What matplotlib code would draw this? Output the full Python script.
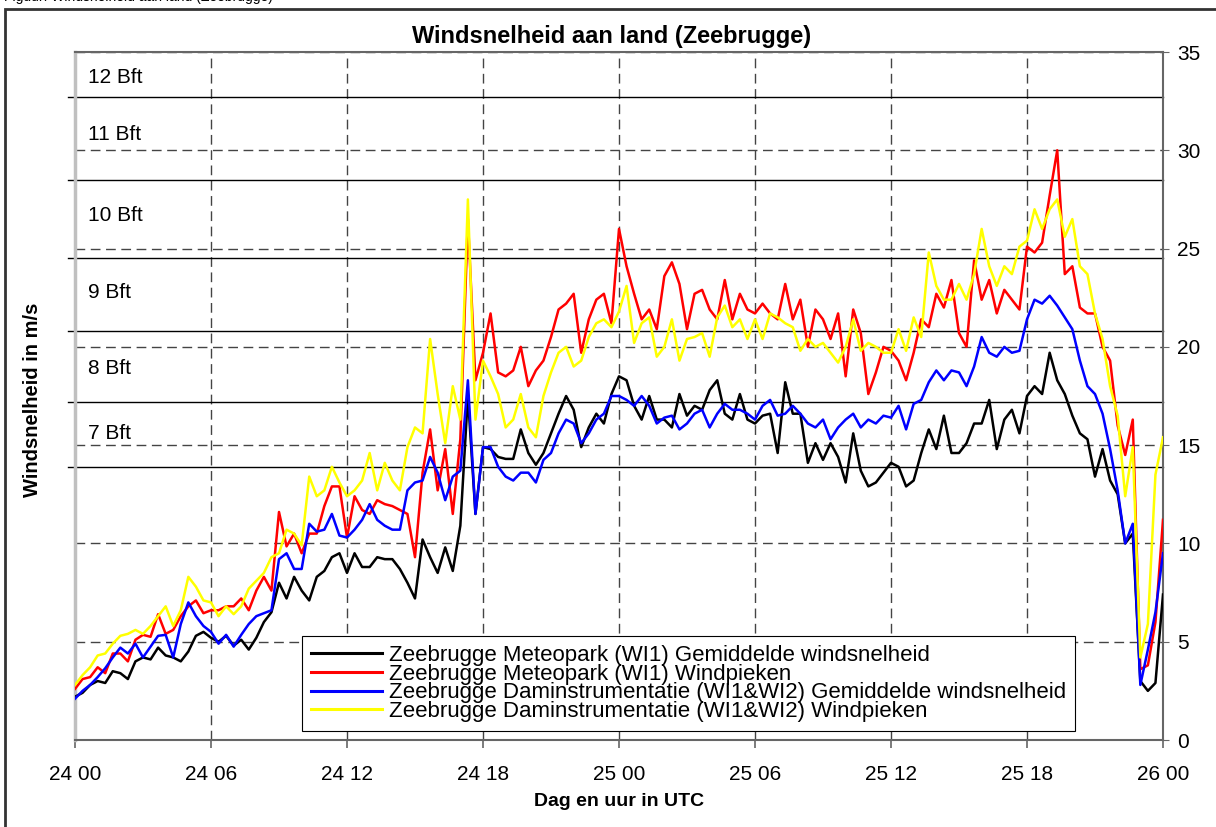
import numpy as np
import matplotlib
matplotlib.use('Agg')
import matplotlib.pyplot as plt
from matplotlib.patches import Rectangle

plt.rcParams['font.family'] = ['Liberation Sans', 'DejaVu Sans']

# 20-minute values from 24 00 to 26 00 UTC (145 points)
meteopark_mean = [
    2.2, 2.4, 2.8, 3.0, 2.9, 3.5, 3.4, 3.1, 4.0, 4.2, 4.1, 4.7,
    4.3, 4.2, 4.0, 4.5, 5.3, 5.5, 5.2, 5.0, 5.3, 4.8, 5.1, 4.6,
    5.2, 6.0, 6.5, 8.0, 7.2, 8.3, 7.6, 7.1, 8.3, 8.6, 9.3, 9.5,
    8.5, 9.5, 8.8, 8.8, 9.3, 9.2, 9.2, 8.7, 8.0, 7.2, 10.2, 9.3,
    8.5, 9.8, 8.6, 10.9, 17.5, 11.5, 14.9, 14.8, 14.4, 14.3, 14.3, 15.8,
    14.6, 14.0, 14.6, 15.6, 16.6, 17.5, 16.8, 14.9, 15.9, 16.6, 16.1, 17.6,
    18.5, 18.3, 17.0, 16.3, 17.5, 16.3, 16.3, 15.9, 17.6, 16.5, 17.0, 16.8,
    17.8, 18.3, 16.6, 16.3, 17.6, 16.3, 16.1, 16.5, 16.6, 14.6, 18.2, 16.6,
    16.6, 14.1, 15.1, 14.25, 15.1, 14.4, 13.1, 15.6, 13.7, 12.9, 13.1, 13.6,
    14.1, 13.9, 12.9, 13.2, 14.6, 15.8, 14.8, 16.5, 14.6, 14.6, 15.1, 16.1,
    16.1, 17.3, 14.8, 16.3, 16.8, 15.6, 17.5, 18.0, 17.6, 19.7, 18.3, 17.6,
    16.5, 15.6, 15.3, 13.4, 14.8, 13.2, 12.5, 10.0, 10.5, 3.0, 2.5, 2.9,
    7.4,
]
meteopark_peak = [
    2.6, 3.1, 3.2, 3.7, 3.4, 4.4, 4.4, 4.0, 5.1, 5.35, 5.25, 6.4,
    5.4, 5.6, 6.3, 6.8, 7.1, 6.45, 6.6, 6.6, 6.8, 6.8, 7.2, 6.6,
    7.6, 8.3, 7.6, 11.6, 9.85, 10.5, 9.5, 10.5, 10.5, 11.9, 12.9, 12.9,
    10.3, 12.4, 11.7, 11.5, 12.2, 12.0, 11.9, 11.7, 11.5, 9.3, 13.6, 15.8,
    12.7, 14.8, 11.5, 15.3, 26.5, 18.3, 19.7, 21.7, 18.7, 18.5, 18.8, 20.0,
    18.0, 18.8, 19.3, 20.5, 21.9, 22.2, 22.7, 19.7, 21.4, 22.4, 22.7, 21.2,
    26.0, 24.1, 22.7, 21.4, 21.9, 20.9, 23.6, 24.3, 23.2, 20.9, 22.7, 22.9,
    21.9, 21.4, 23.4, 21.4, 22.7, 21.9, 21.7, 22.2, 21.7, 21.4, 23.2, 21.4,
    22.4, 20.0, 21.9, 21.4, 20.4, 21.7, 18.5, 21.9, 20.7, 17.6, 18.7, 20.0,
    19.8, 19.3, 18.3, 19.7, 21.4, 21.0, 22.7, 22.0, 23.4, 20.7, 20.0, 24.4,
    22.4, 23.4, 21.7, 22.9, 22.4, 21.9, 25.1, 24.8, 25.3, 27.7, 30.0, 23.7,
    24.1, 22.0, 21.7, 21.7, 20.0, 19.3, 16.0, 14.5, 16.3, 3.6, 3.8, 6.0,
    11.2,
]
dam_mean = [
    2.1, 2.5, 2.8, 3.2, 3.65, 4.2, 4.7, 4.4, 4.9, 4.2, 4.75, 5.3,
    5.35, 4.2, 5.9, 7.0, 6.3, 5.8, 5.5, 4.9, 5.35, 4.75, 5.35, 5.9,
    6.3, 6.45, 6.6, 9.2, 9.5, 8.7, 8.7, 11.0, 10.6, 10.7, 11.5, 10.4,
    10.3, 10.7, 11.2, 12.0, 11.2, 10.9, 10.7, 10.7, 12.7, 13.1, 13.2, 14.4,
    13.6, 12.2, 13.4, 13.7, 18.3, 11.5, 14.9, 14.9, 13.9, 13.4, 13.2, 13.6,
    13.6, 13.1, 14.25, 14.6, 15.6, 16.3, 16.1, 15.1, 15.6, 16.3, 16.6, 17.5,
    17.5, 17.3, 17.0, 17.5, 17.0, 16.1, 16.4, 16.5, 15.8, 16.1, 16.6, 16.8,
    15.9, 16.6, 17.1, 16.8, 16.8, 16.6, 16.3, 17.0, 17.3, 16.5, 16.6, 17.0,
    16.6, 16.1, 15.9, 16.3, 15.3, 15.9, 16.3, 16.6, 15.9, 16.3, 16.1, 16.5,
    16.4, 17.0, 15.8, 17.1, 17.3, 18.2, 18.8, 18.3, 18.8, 18.7, 18.0, 19.0,
    20.5, 19.7, 19.5, 20.0, 19.7, 19.8, 21.4, 22.4, 22.2, 22.6, 22.1, 21.5,
    20.9, 19.3, 18.0, 17.6, 16.6, 14.8, 12.7, 10.0, 11.0, 2.8, 4.6, 6.5,
    9.5,
]
dam_peak = [
    2.8, 3.3, 3.7, 4.3, 4.4, 4.9, 5.3, 5.4, 5.6, 5.4, 5.8, 6.3,
    6.8, 5.8, 6.6, 8.3, 7.8, 7.1, 7.0, 6.3, 6.8, 6.4, 6.8, 7.7,
    8.1, 8.5, 9.3, 9.5, 10.7, 10.5, 9.9, 13.4, 12.4, 12.7, 13.9, 13.1,
    12.4, 12.7, 13.2, 14.6, 12.7, 14.1, 13.2, 12.7, 14.9, 15.9, 15.6, 20.4,
    17.6, 15.1, 18.0, 16.3, 27.5, 16.3, 19.3, 18.5, 17.6, 15.9, 16.3, 17.6,
    15.9, 15.4, 17.5, 18.7, 19.7, 20.0, 19.0, 19.3, 20.5, 21.2, 21.4, 21.0,
    21.8, 23.1, 20.2, 21.2, 21.5, 19.5, 20.0, 21.4, 19.3, 20.4, 20.5, 20.7,
    19.5, 21.5, 22.1, 21.0, 21.4, 20.4, 21.4, 20.4, 21.7, 21.5, 21.2, 21.0,
    19.8, 20.4, 20.0, 20.2, 19.7, 19.2, 20.0, 21.4, 19.8, 20.2, 20.0, 19.7,
    19.7, 20.9, 19.8, 21.5, 20.5, 24.8, 23.1, 22.4, 22.4, 23.2, 22.4, 23.7,
    26.0, 24.1, 23.1, 24.1, 23.7, 25.1, 25.4, 27.0, 26.0, 27.0, 27.5, 25.6,
    26.5, 24.1, 23.7, 21.7, 20.4, 18.0, 16.5, 12.4, 14.9, 4.2, 5.9, 13.5,
    15.4,
]

series_labels = [
    'Zeebrugge Meteopark (WI1) Gemiddelde windsnelheid',
    'Zeebrugge Meteopark (WI1) Windpieken',
    'Zeebrugge Daminstrumentatie (WI1&WI2) Gemiddelde windsnelheid',
    'Zeebrugge Daminstrumentatie (WI1&WI2) Windpieken',
]
series_colors = ['black', '#ff0000', '#0000ff', '#ffff00']

tick_hours = [0, 6, 12, 18, 24, 30, 36, 42, 48]
tick_labels = ['24 00', '24 06', '24 12', '24 18', '25 00', '25 06', '25 12', '25 18', '26 00']

# Beaufort boundaries and label positions
bft_limits = [13.9, 17.2, 20.8, 24.5, 28.5, 32.7]
bft_names = ['7 Bft', '8 Bft', '9 Bft', '10 Bft', '11 Bft', '12 Bft']
bft_label_y = [15.6, 18.9, 22.75, 26.7, 30.8, 33.7]

hours = np.arange(len(meteopark_mean)) / 3.0

fig = plt.figure(figsize=(12.16, 8.27), dpi=100)
ax = fig.add_axes([75 / 1216, 87 / 827, 1088 / 1216, 688 / 827])

for y in range(5, 36, 5):
    ax.axhline(y, color='#444444', lw=1.0, dashes=(7, 4), zorder=1)
for h in tick_hours[1:-1]:
    ax.axvline(h, color='#444444', lw=1.0, dashes=(7, 4), zorder=1)
for y in bft_limits:
    ax.axhline(y, xmin=-0.006, xmax=1, color='black', lw=1.0, zorder=2, clip_on=False)
for name, y in zip(bft_names, bft_label_y):
    ax.text(0.012, y, name, transform=ax.get_yaxis_transform(), fontsize=15, va='center', ha='left')

series = [meteopark_mean, meteopark_peak, dam_mean, dam_peak]
for values, label, color in zip(series, series_labels, series_colors):
    ax.plot(hours, values, color=color, lw=1.8, label=label, zorder=3)

ax.set_xlim(0, 48)
ax.set_ylim(0, 35)
ax.set_xticks(tick_hours)
ax.set_xticklabels(tick_labels, fontsize=15)
ax.set_yticks(range(0, 36, 5))
ax.yaxis.tick_right()
ax.tick_params(axis='y', labelsize=15, length=4, direction='out', color='#666666', pad=6)
ax.tick_params(axis='x', length=6, direction='out', color='#666666', width=1.2, pad=12)
for side in ['top', 'right', 'bottom']:
    ax.spines[side].set_color('#666666')
    ax.spines[side].set_linewidth(1.5)
ax.spines['left'].set_color('#c0c0c0')
ax.spines['left'].set_linewidth(2.5)

leg = ax.legend(loc='upper left', bbox_to_anchor=(227 / 1088, 104 / 688), fontsize=16,
                frameon=True, fancybox=False, edgecolor='black', framealpha=1,
                handlelength=3.2, handletextpad=0.3, labelspacing=-0.1,
                borderpad=0.4, borderaxespad=0)
leg.get_frame().set_linewidth(0.8)
for line in leg.get_lines():
    line.set_linewidth(2.2)

fig.text(612 / 1216, 1 - 37 / 827, 'Windsnelheid aan land (Zeebrugge)', fontsize=17,
         fontweight='bold', ha='center', va='center')
fig.text(619 / 1216, 1 - 801 / 827, 'Dag en uur in UTC', fontsize=14,
         fontweight='bold', ha='center', va='center')
fig.text(33 / 1216, 1 - 400 / 827, 'Windsnelheid in m/s', fontsize=14.5,
         fontweight='bold', ha='center', va='center', rotation=90)

# caption of the page, cut off at the top edge
fig.text(4 / 1216, 1 - 1.5 / 827, 'Figuur: Windsnelheid aan land (Zeebrugge)', fontsize=10,
         ha='left', va='baseline')

fig.patches.append(Rectangle((5 / 1216, -0.05), 1.1, 1 - 9 / 827 + 0.05, transform=fig.transFigure,
                             fill=False, edgecolor='#333333', lw=2))

fig.savefig('out.png', dpi=100)
